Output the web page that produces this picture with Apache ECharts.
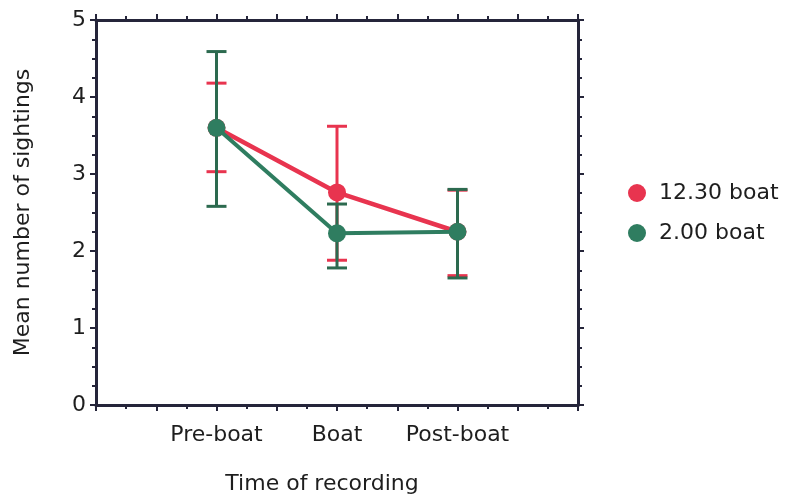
<!DOCTYPE html>
<html>
<head>
<meta charset="utf-8">
<script src="https://cdn.jsdelivr.net/npm/echarts@6/dist/echarts.min.js"></script>
<style>
  html, body { margin: 0; padding: 0; background: #fff; }
  #chart { width: 791px; height: 496px; }
</style>
</head>
<body>
<div id="chart"></div>
<script>
// time of recording, placed at x = 1, 2, 3
const categories = ['Pre-boat', 'Boat', 'Post-boat'];
const seriesNames = ['12.30 boat', '2.00 boat'];

// mean number of sightings with error bar ends
const boat1230Mean = [3.6, 2.76, 2.25];
const boat1230Upper = [4.18, 3.62, 2.79];
const boat1230Lower = [3.03, 1.88, 1.68];

const boat200Mean = [3.6, 2.23, 2.25];
const boat200Upper = [4.59, 2.61, 2.8];
const boat200Lower = [2.58, 1.78, 1.65];

const yTicks = [0, 1, 2, 3, 4, 5];

const RED = '#e8344f';
const GREEN = '#2f7d60';
const GREEN_BAR = '#2c6a4f';
const AXIS = '#25253a';
const TEXT = '#1e1e1e';

let chart = echarts.init(document.getElementById('chart'));

const toPoints = (means) => means.map((m, i) => [i + 1, m]);
const toBars = (lows, highs) => lows.map((lo, i) => [i + 1, lo, highs[i]]);

// draws a vertical error bar with caps
const errorBar = (color) => function (params, api) {
  let x = api.value(0);
  let lo = api.coord([x, api.value(1)]);
  let hi = api.coord([x, api.value(2)]);
  let half = 10;
  let style = { stroke: color, lineWidth: 3 };
  return {
    type: 'group',
    children: [
      { type: 'line', shape: { x1: hi[0], y1: hi[1], x2: lo[0], y2: lo[1] }, style: style },
      { type: 'line', shape: { x1: hi[0] - half, y1: hi[1], x2: hi[0] + half, y2: hi[1] }, style: style },
      { type: 'line', shape: { x1: lo[0] - half, y1: lo[1], x2: lo[0] + half, y2: lo[1] }, style: style }
    ]
  };
};

let axisLine = { show: true, onZero: false, lineStyle: { color: AXIS, width: 3 } };
let majorTick = { show: true, length: 6, lineStyle: { color: AXIS, width: 2 } };
let font = 'DejaVu Sans';

let option = {
  backgroundColor: '#fff',
  animation: false,
  textStyle: { fontFamily: font },
  grid: { left: 96, right: 213, top: 20, bottom: 91, outerBoundsMode: 'none', containLabel: false },
  legend: {
    orient: 'vertical',
    left: 628,
    top: 182,
    padding: 0,
    itemWidth: 18,
    itemHeight: 18,
    itemGap: 18,
    data: [
      { name: seriesNames[0], icon: 'circle' },
      { name: seriesNames[1], icon: 'circle' }
    ],
    textStyle: { fontSize: 22, color: TEXT, fontFamily: font, padding: [0, 0, 0, 8] }
  },
  xAxis: [
    {
      type: 'value',
      min: 0,
      max: 4,
      interval: 0.5,
      position: 'bottom',
      axisLine: axisLine,
      axisTick: majorTick,
      minorTick: { show: true, splitNumber: 2, length: 4, lineStyle: { color: AXIS, width: 2 } },
      splitLine: { show: false },
      axisLabel: {
        margin: 19,
        fontSize: 22,
        color: TEXT,
        formatter: (v) => (Number.isInteger(v) && v >= 1 && v <= 3) ? categories[v - 1] : ''
      },
      name: 'Time of recording',
      nameLocation: 'middle',
      nameGap: 68,
      nameTextStyle: { fontSize: 22, color: TEXT, padding: [0, 30, 0, 0] }
    },
    {
      type: 'value',
      min: 0,
      max: 4,
      interval: 0.5,
      position: 'top',
      axisLine: axisLine,
      axisTick: majorTick,
      minorTick: { show: true, splitNumber: 2, length: 4, lineStyle: { color: AXIS, width: 2 } },
      splitLine: { show: false },
      axisLabel: { show: false }
    }
  ],
  yAxis: [
    {
      type: 'value',
      min: yTicks[0],
      max: yTicks[yTicks.length - 1],
      interval: 1,
      position: 'left',
      axisLine: axisLine,
      axisTick: majorTick,
      minorTick: { show: true, splitNumber: 4, length: 4, lineStyle: { color: AXIS, width: 2 } },
      splitLine: { show: false },
      axisLabel: { margin: 10, fontSize: 22, color: TEXT },
      name: 'Mean number of sightings',
      nameLocation: 'middle',
      nameGap: 62,
      nameTextStyle: { fontSize: 22, color: TEXT }
    },
    {
      type: 'value',
      min: yTicks[0],
      max: yTicks[yTicks.length - 1],
      interval: 1,
      position: 'right',
      axisLine: axisLine,
      axisTick: majorTick,
      minorTick: { show: true, splitNumber: 4, length: 4, lineStyle: { color: AXIS, width: 2 } },
      splitLine: { show: false },
      axisLabel: { show: false }
    }
  ],
  series: [
    {
      name: seriesNames[0] + ' error',
      type: 'custom',
      z: 1,
      renderItem: errorBar(RED),
      data: toBars(boat1230Lower, boat1230Upper)
    },
    {
      name: seriesNames[0],
      type: 'line',
      z: 2,
      color: RED,
      symbol: 'circle',
      symbolSize: 18,
      lineStyle: { color: RED, width: 4.5 },
      itemStyle: { color: RED },
      data: toPoints(boat1230Mean)
    },
    {
      name: seriesNames[1] + ' error',
      type: 'custom',
      z: 3,
      renderItem: errorBar(GREEN_BAR),
      data: toBars(boat200Lower, boat200Upper)
    },
    {
      name: seriesNames[1],
      type: 'line',
      z: 4,
      color: GREEN,
      symbol: 'circle',
      symbolSize: 18,
      lineStyle: { color: GREEN, width: 4 },
      itemStyle: { color: GREEN },
      data: toPoints(boat200Mean)
    }
  ]
};

chart.setOption(option);
</script>
</body>
</html>
